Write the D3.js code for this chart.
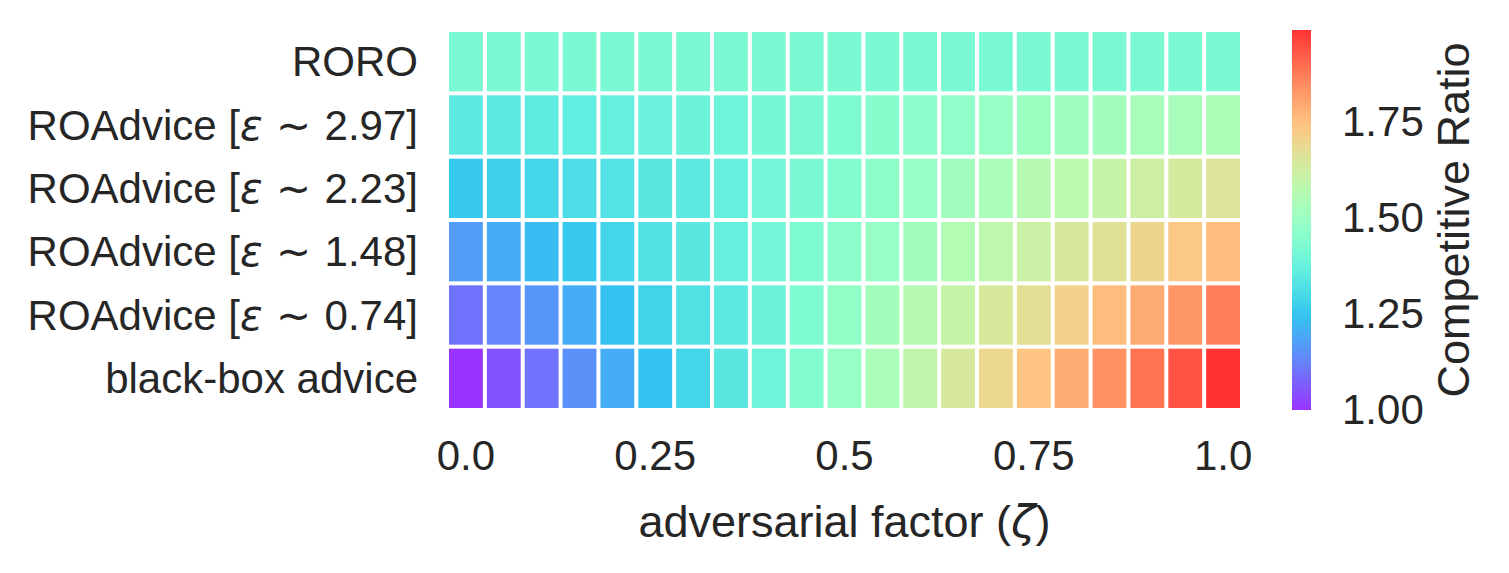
<!DOCTYPE html>
<html lang="en">
<head>
    <meta charset="UTF-8">
    <title>Competitive Ratio heatmap</title>
    <style>
        body { margin: 0; background: #fff; }
        svg { display: block; }
        text {
            font-family: "Liberation Sans", Arial, sans-serif;
            fill: #262626;
        }
        .math { font-family: "DejaVu Sans", sans-serif; font-style: italic; }
        .mathop { font-family: "DejaVu Sans", sans-serif; }
    </style>
</head>
<body>
    <svg id="chart" width="1509" height="573"></svg>

    <script src="https://cdnjs.cloudflare.com/ajax/libs/d3/7.8.5/d3.min.js"></script>
    <script>
        // --- Data ---
        const zetas = [0.0, 0.05, 0.1, 0.15, 0.2, 0.25, 0.3, 0.35, 0.4, 0.45, 0.5,
                       0.55, 0.6, 0.65, 0.7, 0.75, 0.8, 0.85, 0.9, 0.95, 1.0];
        const xTickValues = [0.0, 0.25, 0.5, 0.75, 1.0];
        const xTickLabels = ["0.0", "0.25", "0.5", "0.75", "1.0"];

        const rowNames = ["RORO", "ROAdvice 2.97", "ROAdvice 2.23", "ROAdvice 1.48", "ROAdvice 0.74", "black-box advice"];
        // label pieces: [prefix, epsilon value] (empty value = plain label)
        const rowLabels = [
            ["RORO", ""],
            ["ROAdvice [", "2.97]"],
            ["ROAdvice [", "2.23]"],
            ["ROAdvice [", "1.48]"],
            ["ROAdvice [", "0.74]"],
            ["black-box advice", ""]
        ];

        const roro       = [1.42, 1.42, 1.42, 1.42, 1.42, 1.42, 1.42, 1.42, 1.42, 1.42, 1.42,
                            1.42, 1.42, 1.42, 1.42, 1.42, 1.42, 1.42, 1.42, 1.42, 1.42];
        const roAdvice297 = [1.35, 1.35, 1.355, 1.36, 1.37, 1.38, 1.385, 1.39, 1.41, 1.42, 1.43,
                            1.45, 1.46, 1.47, 1.49, 1.50, 1.51, 1.52, 1.53, 1.535, 1.545];
        const roAdvice223 = [1.26, 1.28, 1.29, 1.31, 1.325, 1.34, 1.35, 1.37, 1.40, 1.42, 1.44,
                            1.465, 1.49, 1.515, 1.54, 1.565, 1.58, 1.60, 1.62, 1.64, 1.66];
        const roAdvice148 = [1.17, 1.20, 1.23, 1.26, 1.29, 1.32, 1.34, 1.37, 1.40, 1.43, 1.46,
                            1.49, 1.52, 1.56, 1.585, 1.615, 1.645, 1.67, 1.70, 1.73, 1.755];
        const roAdvice074 = [1.10, 1.13, 1.16, 1.20, 1.245, 1.285, 1.32, 1.345, 1.385, 1.43, 1.475,
                            1.52, 1.565, 1.60, 1.645, 1.675, 1.71, 1.755, 1.79, 1.83, 1.87];
        const blackBox    = [1.00, 1.05, 1.10, 1.15, 1.20, 1.245, 1.29, 1.34, 1.39, 1.44, 1.49,
                            1.54, 1.59, 1.645, 1.695, 1.74, 1.79, 1.84, 1.89, 1.94, 1.99];

        const rowValues = [roro, roAdvice297, roAdvice223, roAdvice148, roAdvice074, blackBox];
        const cbarTicks = [1.00, 1.25, 1.50, 1.75];

        // flatten to cells
        const cells = [];
        rowValues.forEach((vals, r) => vals.forEach((v, c) => cells.push({ row: rowNames[r], zeta: zetas[c], value: v })));

        // matplotlib "rainbow" colormap
        function rainbow(t) {
            t = Math.max(0, Math.min(1, t));
            const r = Math.min(1, Math.abs(2 * t - 0.5));
            const g = Math.sin(Math.PI * t);
            const b = Math.cos(Math.PI * t / 2);
            return d3.rgb(r * 255, g * 255, b * 255).formatHex();
        }

        const svg = d3.select("#chart");
        const plot = { left: 447, right: 1242, top: 30, bottom: 410 };
        const gap = 2; // half of the white line between cells
        const tickFont = 42;
        const labelFont = 45;

        const x = d3.scaleBand().domain(zetas).range([plot.left, plot.right]);
        const y = d3.scaleBand().domain(rowNames).range([plot.top, plot.bottom]);

        const vmin = d3.min(cells, d => d.value);
        const vmax = d3.max(cells, d => d.value);
        const color = d3.scaleSequential(rainbow).domain([vmin, vmax]);

        // --- Heatmap cells ---
        svg.append("g")
            .selectAll("rect")
            .data(cells)
            .enter().append("rect")
            .attr("x", d => x(d.zeta) + gap)
            .attr("y", d => y(d.row) + gap)
            .attr("width", x.bandwidth() - 2 * gap)
            .attr("height", y.bandwidth() - 2 * gap)
            .attr("fill", d => color(d.value))
            .attr("fill-opacity", 0.8);

        // --- Y labels ---
        const yLab = svg.append("g").selectAll("text")
            .data(rowNames)
            .enter().append("text")
            .attr("x", plot.left - 29)
            .attr("y", d => y(d) + y.bandwidth() / 2)
            .attr("dy", "0.35em")
            .attr("text-anchor", "end")
            .style("font-size", tickFont + "px");
        yLab.each(function(d, i) {
            const parts = rowLabels[i];
            const t = d3.select(this);
            t.append("tspan").text(parts[0]);
            if (parts[1]) {
                t.append("tspan").attr("class", "math").text("ε");
                t.append("tspan").attr("class", "mathop").text(" \u223C ");
                t.append("tspan").text(parts[1]);
            }
        });

        // --- X axis (ticks at cell centres) ---
        const xAxis = d3.axisBottom(x)
            .tickValues(xTickValues)
            .tickFormat((d, i) => xTickLabels[i])
            .tickSize(0)
            .tickPadding(30);
        const gx = svg.append("g")
            .attr("transform", `translate(0,${plot.bottom})`)
            .call(xAxis);
        gx.select(".domain").remove();
        gx.selectAll("text")
            .style("font-size", tickFont + "px")
            .style("font-family", "'Liberation Sans', Arial, sans-serif")
            .attr("fill", "#262626");

        const xLabel = svg.append("text")
            .attr("x", (plot.left + plot.right) / 2)
            .attr("y", 537)
            .attr("text-anchor", "middle")
            .style("font-size", labelFont + "px");
        xLabel.append("tspan").text("adversarial factor (");
        xLabel.append("tspan").attr("class", "math").text("ζ");
        xLabel.append("tspan").text(")");

        // --- Colorbar ---
        const cb = { x: 1292, w: 19, top: plot.top, bottom: plot.bottom };
        const cScale = d3.scaleLinear().domain([vmin, vmax]).range([cb.bottom, cb.top]);

        const grad = svg.append("defs").append("linearGradient")
            .attr("id", "cbar-grad")
            .attr("x1", 0).attr("y1", 1).attr("x2", 0).attr("y2", 0);
        grad.selectAll("stop")
            .data(d3.range(0, 1.0001, 0.02))
            .enter().append("stop")
            .attr("offset", d => d)
            .attr("stop-color", d => rainbow(d));

        svg.append("rect")
            .attr("x", cb.x)
            .attr("y", cb.top)
            .attr("width", cb.w)
            .attr("height", cb.bottom - cb.top)
            .attr("fill", "url(#cbar-grad)")
            .attr("fill-opacity", 0.8);

        const cAxis = d3.axisRight(cScale)
            .tickValues(cbarTicks)
            .tickFormat(d3.format(".2f"))
            .tickSize(0)
            .tickPadding(31);
        const gc = svg.append("g")
            .attr("transform", `translate(${cb.x + cb.w},0)`)
            .call(cAxis);
        gc.select(".domain").remove();
        gc.selectAll("text")
            .style("font-size", tickFont + "px")
            .style("font-family", "'Liberation Sans', Arial, sans-serif")
            .attr("fill", "#262626");

        svg.append("text")
            .attr("transform", "translate(1469,220) rotate(-90)")
            .attr("text-anchor", "middle")
            .style("font-size", labelFont + "px")
            .text("Competitive Ratio");
    </script>
</body>
</html>
